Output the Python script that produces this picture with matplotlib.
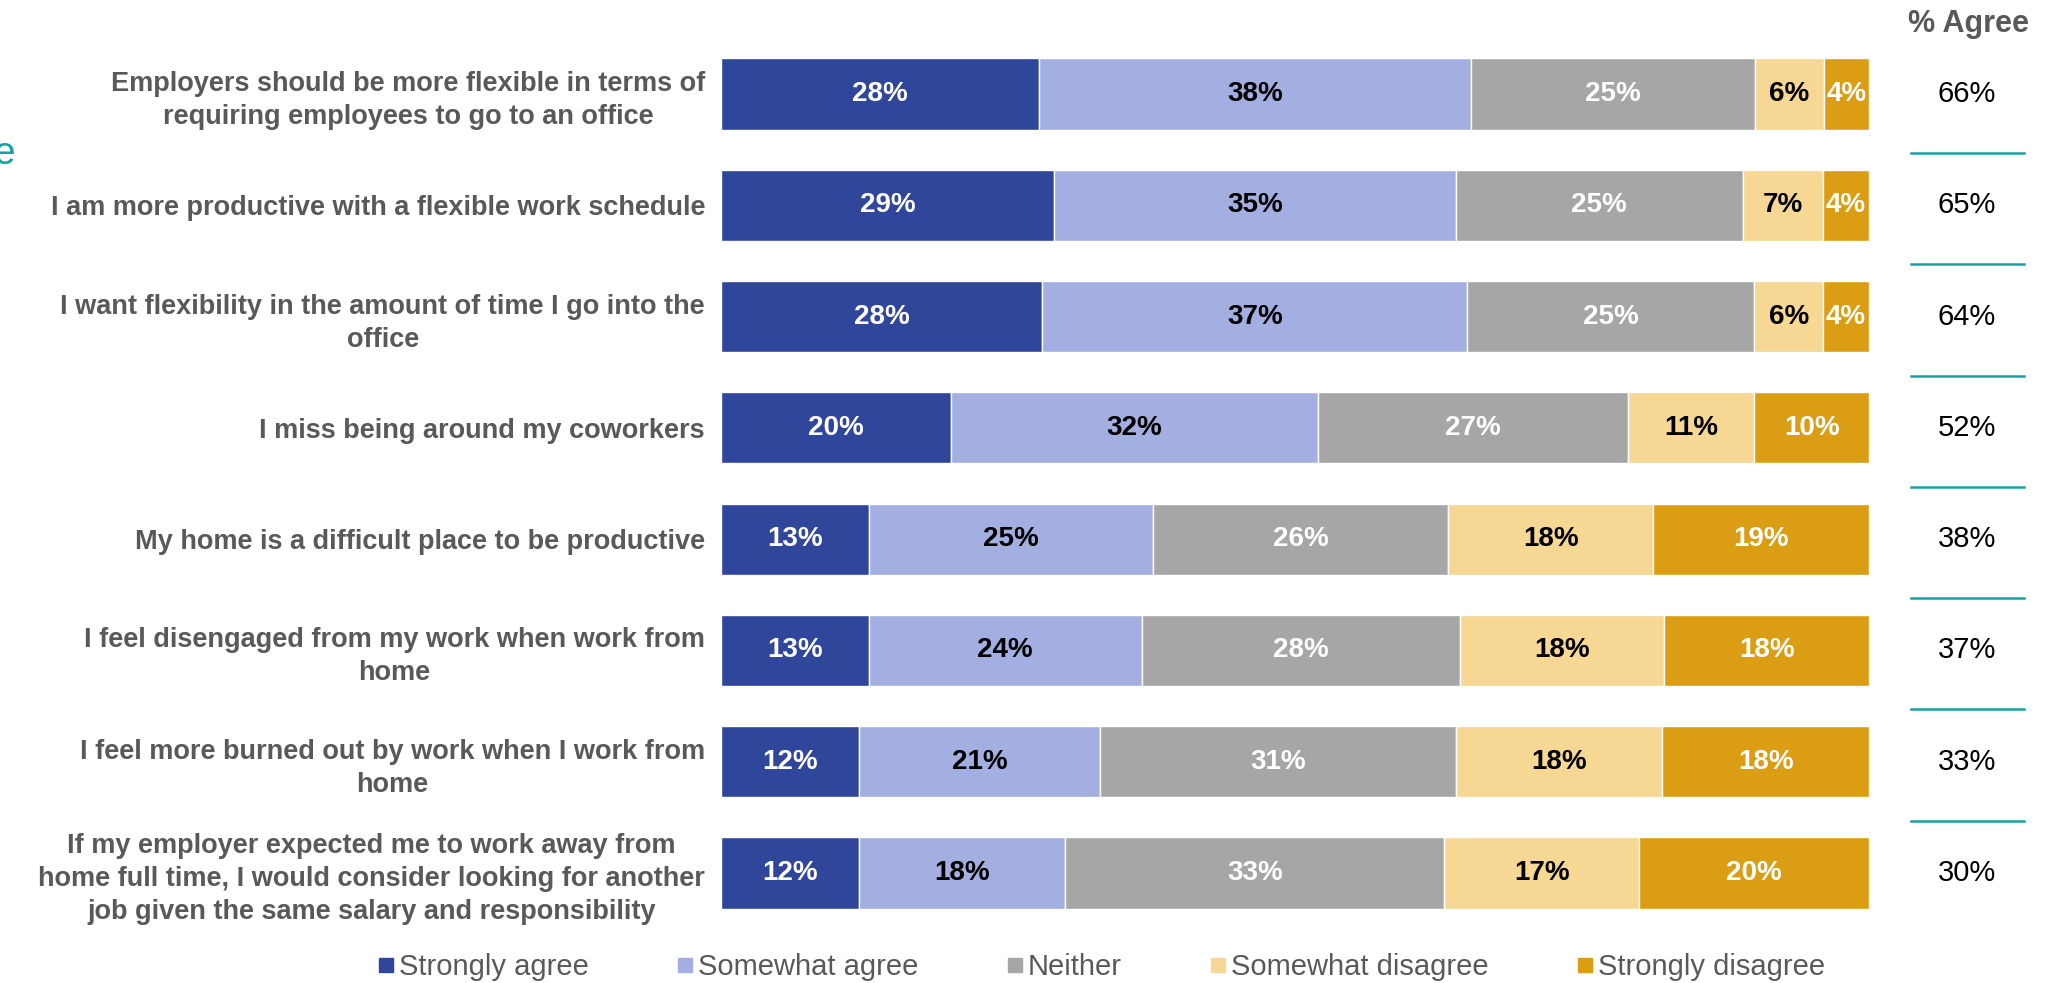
import numpy as np
import matplotlib
matplotlib.use("Agg")
import matplotlib.pyplot as plt
from matplotlib.lines import Line2D
from matplotlib.transforms import blended_transform_factory

plt.rcParams['font.family'] = ['Liberation Sans', 'DejaVu Sans']

statements = [
    "Employers should be more flexible in terms of\nrequiring employees to go to an office",
    "I am more productive with a flexible work schedule",
    "I want flexibility in the amount of time I go into the\noffice",
    "I miss being around my coworkers",
    "My home is a difficult place to be productive",
    "I feel disengaged from my work when work from\nhome",
    "I feel more burned out by work when I work from\nhome",
    "If my employer expected me to work away from\nhome full time, I would consider looking for another\njob given the same salary and responsibility",
]
categories = ["Strongly agree", "Somewhat agree", "Neither", "Somewhat disagree", "Strongly disagree"]
strongly_agree = [28, 29, 28, 20, 13, 13, 12, 12]
somewhat_agree = [38, 35, 37, 32, 25, 24, 21, 18]
neither = [25, 25, 25, 27, 26, 28, 31, 33]
somewhat_disagree = [6, 7, 6, 11, 18, 18, 18, 17]
strongly_disagree = [4, 4, 4, 10, 19, 18, 18, 20]
pct_agree = [66, 65, 64, 52, 38, 37, 33, 30]

colors = ["#2F469B", "#A3AFE1", "#A6A6A6", "#F6D794", "#DA9D13"]
text_colors = ["white", "black", "white", "black", "white"]
GRAY = "#595959"
TEAL = "#17A2A2"

series = np.array([strongly_agree, somewhat_agree, neither, somewhat_disagree, strongly_disagree], dtype=float)
# bars all run to the same right edge, so scale each row to 100
shares = series / series.sum(axis=0) * 100

fig = plt.figure(figsize=(20.46, 9.83), dpi=100)
ax = fig.add_axes([0.3524, 0.0553, 0.5611, 0.9057])

y = np.arange(len(statements))
left = np.zeros(len(statements))
for i, cat in enumerate(categories):
    ax.barh(y, shares[i], left=left, height=0.64, color=colors[i],
            edgecolor="white", linewidth=1, label=cat)
    for j in range(len(statements)):
        ax.text(left[j] + shares[i][j] / 2, y[j], f"{int(series[i][j])}%",
                ha="center", va="center", fontsize=20, fontweight="bold",
                color=text_colors[i])
    left += shares[i]

ax.set_xlim(0, 100)
ax.set_ylim(len(statements) - 0.5, -0.5)
ax.set_yticks(y)
ax.set_yticklabels(statements, fontsize=19.5, fontweight="bold", color=GRAY,
                   linespacing=1.35)
for t in ax.get_yticklabels():
    t.set_multialignment("center")
ax.tick_params(axis="y", length=0, pad=11.5)
ax.set_xticks([])
for s in ax.spines.values():
    s.set_visible(False)

# % Agree column
fig.text(1968 / 2046, 1 - 24 / 983, "% Agree", ha="center", va="center",
         fontsize=22, fontweight="bold", color=GRAY)
tr = blended_transform_factory(fig.transFigure, ax.transData)
for j, v in enumerate(pct_agree):
    ax.text(1967 / 2046, y[j], f"{v}%", transform=tr, ha="center", va="center",
            fontsize=21, color="black")
for j in range(len(statements) - 1):
    yy = y[j] + 0.53
    ax.plot([1911 / 2046, 2024 / 2046], [yy, yy], transform=tr, color=TEAL,
            lw=1.8, clip_on=False)

# stray teal letter at the left edge
fig.text(15 / 2046, 1 - 154 / 983, "e", ha="right", va="center",
         fontsize=28, color=TEAL)

handles = [Line2D([], [], marker="s", linestyle="none", markersize=10,
                  markerfacecolor=c, markeredgecolor=c) for c in colors]
fig.legend(handles, categories, loc="center", bbox_to_anchor=(0.5386, 0.0163),
           ncol=5, frameon=False, fontsize=21, handlelength=0.5,
           handletextpad=0.2, columnspacing=3.05, borderpad=0, labelcolor=GRAY)

fig.savefig("out.png", dpi=100)
